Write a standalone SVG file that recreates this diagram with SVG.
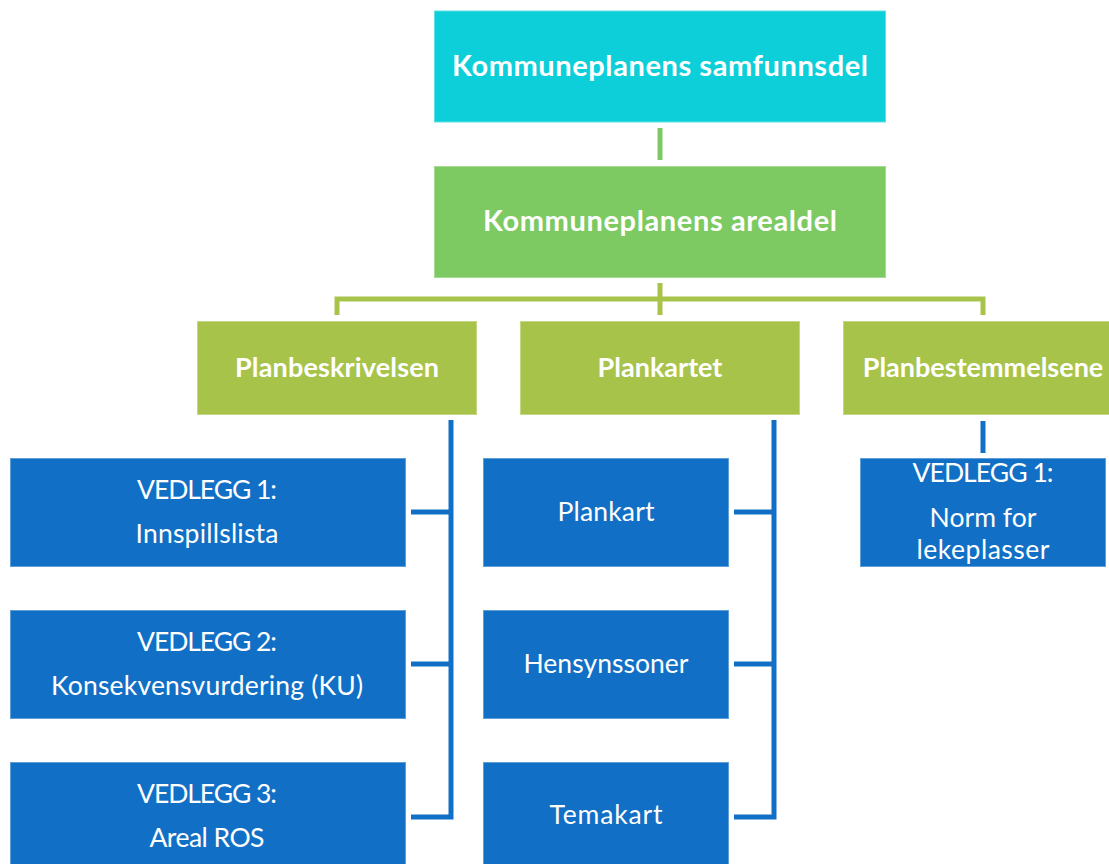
<svg xmlns="http://www.w3.org/2000/svg" width="1109" height="864" viewBox="0 0 1109 864">
<style>
.box{stroke-width:1}
.cyan{fill:#0DCFD9;stroke:#5fe0e6}
.green{fill:#7DC962;stroke:#a6da93}
.olive{fill:#A8C34A;stroke:#c4d785}
.blue{fill:#1170C5;stroke:#5f9fd8}
.tb{font-family:Lato,"Liberation Sans",sans-serif;font-weight:bold;fill:#fff;text-anchor:middle}
.tr{font-family:Lato,"Liberation Sans",sans-serif;fill:#fff;text-anchor:middle;font-size:26.5px}
.lg{fill:none;stroke:#7DC962;stroke-width:5}
.lo{fill:none;stroke:#A8C34A;stroke-width:5}
.lb{fill:none;stroke:#1170C5;stroke-width:5}
</style>
<rect width="1109" height="864" fill="#fff"/>
<g id="connectors">
<path class="lg" d="M660 128 V160"/>
<path class="lo" d="M337 315 V299 H983 V315 M660 283 V315"/>
<path class="lb" d="M451 420 V817 H411 M411 512 H451 M411 664 H451"/>
<path class="lb" d="M774 420 V817 H734 M734 512 H774 M734 664 H774"/>
<path class="lb" d="M983 421 V453"/>
</g>
<g id="samfunnsdel"><rect class="box cyan" x="434.5" y="11" width="451" height="111"/><text class="tb" x="660" y="76" font-size="29" textLength="416">Kommuneplanens samfunnsdel</text></g>
<g id="arealdel"><rect class="box green" x="434.5" y="166.5" width="451" height="111"/><text class="tb" x="660" y="231" font-size="29" textLength="354">Kommuneplanens arealdel</text></g>
<g id="planbeskrivelsen"><rect class="box olive" x="197.5" y="321.5" width="279" height="93"/><text class="tb" x="337" y="377" font-size="27" textLength="204">Planbeskrivelsen</text></g>
<g id="plankartet"><rect class="box olive" x="520.5" y="321.5" width="279" height="93"/><text class="tb" x="660" y="377" font-size="27">Plankartet</text></g>
<g id="planbestemmelsene"><rect class="box olive" x="843.5" y="321.5" width="279" height="93"/><text class="tb" x="983" y="377" font-size="27">Planbestemmelsene</text></g>
<g id="vedlegg1"><rect class="box blue" x="10.5" y="458.5" width="395" height="108"/><text class="tr" x="207" y="499" textLength="140">VEDLEGG 1:</text><text class="tr" x="207" y="543" textLength="143">Innspillslista</text></g>
<g id="vedlegg2"><rect class="box blue" x="10.5" y="610.5" width="395" height="108"/><text class="tr" x="207" y="651" textLength="140">VEDLEGG 2:</text><text class="tr" x="207" y="695" textLength="312">Konsekvensvurdering (KU)</text></g>
<g id="vedlegg3"><rect class="box blue" x="10.5" y="762.5" width="395" height="108"/><text class="tr" x="207" y="803" textLength="140">VEDLEGG 3:</text><text class="tr" x="207" y="847" textLength="115">Areal ROS</text></g>
<g id="plankart"><rect class="box blue" x="483.5" y="458.5" width="245" height="108"/><text class="tr" x="606" y="521" textLength="97">Plankart</text></g>
<g id="hensynssoner"><rect class="box blue" x="483.5" y="610.5" width="245" height="108"/><text class="tr" x="606" y="673" textLength="165">Hensynssoner</text></g>
<g id="temakart"><rect class="box blue" x="483.5" y="762.5" width="245" height="108"/><text class="tr" x="606" y="824" textLength="113">Temakart</text></g>
<g id="norm"><rect class="box blue" x="860.5" y="458.5" width="245" height="108"/><text class="tr" x="983" y="482" textLength="141">VEDLEGG 1:</text><text class="tr" x="983" y="527" textLength="107">Norm for</text><text class="tr" x="983" y="559" textLength="133">lekeplasser</text></g>
</svg>
